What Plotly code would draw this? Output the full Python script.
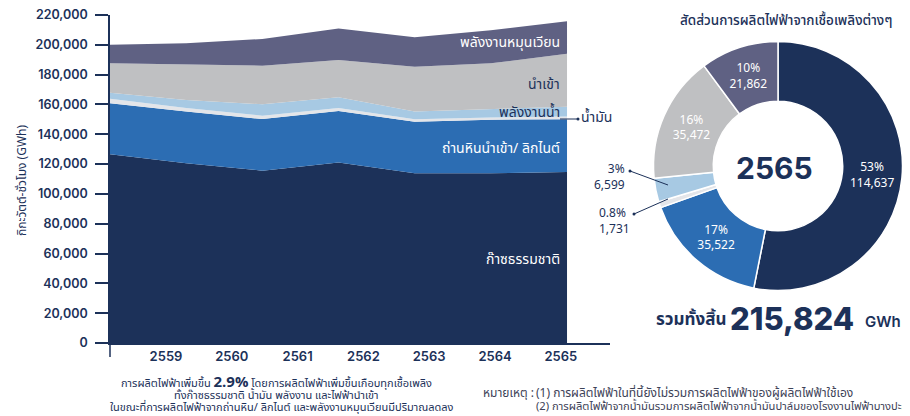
import plotly.graph_objects as go

# ---------------- data ----------------
years = [2559, 2560, 2561, 2562, 2563, 2564, 2565]
year_labels = ["2559", "2560", "2561", "2562", "2563", "2564", "2565"]
gas = [126600, 120500, 115600, 121000, 113800, 113800, 114637]
coal = [34200, 34700, 34600, 34600, 34600, 36000, 35522]
oil = [3000, 2500, 2300, 2000, 1600, 1400, 1731]
hydro = [4100, 5300, 7600, 7200, 5200, 5400, 6599]
imports = [19700, 23900, 25900, 25000, 30100, 31000, 35472]
renew = [12400, 14200, 17900, 21200, 19700, 22100, 21862]
series_names = ["ก๊าซธรรมชาติ", "ถ่านหินนำเข้า/ ลิกไนต์", "น้ำมัน", "พลังงานน้ำ", "นำเข้า", "พลังงานหมุนเวียน"]
pie_pct = ["53%", "17%", "0.8%", "3%", "16%", "10%"]
y_ticks = [0, 20000, 40000, 60000, 80000, 100000, 120000, 140000, 160000, 180000, 200000, 220000]
total_2565 = "215,824"

NAVY = "#1c3159"
colors = ["#1c3159", "#2c6db3", "#e3e5e9", "#a7c9e3", "#bfc0c2", "#5f6183"]
FONT = "Noto Sans Thai, Noto Sans, sans-serif"

# page has an 8px body margin: the figure is drawn from (8, 8) in the window
OFF = 8
W, H = 910 - OFF, 416 - OFF
def px(x):
    return (x - OFF) / W
def py(y):
    return 1 - (y - OFF) / H

fig = go.Figure()
series = [gas, coal, oil, hydro, imports, renew]
for name, vals, c in zip(series_names, series, colors):
    fig.add_trace(go.Scatter(x=years, y=vals, name=name, stackgroup="one",
                             mode="lines", line=dict(width=0, color=c),
                             fillcolor=c, showlegend=False))

# invisible trace for the year-label axis
fig.add_trace(go.Scatter(x=years, y=[0] * len(years), xaxis="x2", mode="markers",
                         marker=dict(opacity=0), showlegend=False, hoverinfo="skip"))

pie_vals = [s[-1] for s in series]
fig.add_trace(go.Pie(values=pie_vals, labels=series_names, text=pie_pct,
                     texttemplate="%{text}<br>%{value:,}",
                     textposition=["inside", "inside", "none", "none", "inside", "inside"],
                     insidetextorientation="horizontal",
                     insidetextfont=dict(color="white", size=12, family=FONT),
                     marker=dict(colors=colors, line=dict(color="white", width=1.5)),
                     hole=0.52, sort=False, direction="clockwise", rotation=0,
                     domain=dict(x=[px(778 - 124.5), px(778 + 124.5)], y=[py(290.5), py(41.5)]),
                     showlegend=False, hoverinfo="label+value"))

x0, x1 = 110, 610
xspan = (x1 - x0) / 76.17
lab0, labstep = 166, 65.8
fig.update_layout(
    width=W, height=H, margin=dict(l=0, r=0, t=0, b=0, autoexpand=False),
    paper_bgcolor="white", plot_bgcolor="white",
    font=dict(family=FONT, color=NAVY),
    xaxis=dict(domain=[px(x0), px(x1)], range=[2559, 2559 + xspan], showgrid=False,
               zeroline=False, showticklabels=False, ticks="", showline=True,
               linecolor=NAVY, linewidth=1.5, automargin=False),
    xaxis2=dict(overlaying="x", anchor="y", side="bottom",
                range=[2559 - (lab0 - x0) / labstep, 2559 - (lab0 - x0) / labstep + (x1 - x0) / labstep],
                tickvals=years, ticktext=year_labels, showgrid=False, zeroline=False,
                showline=False, ticks="", automargin=False, ticklabelstandoff=4,
                ticklabeloverflow="allow",
                tickfont=dict(size=13, color=NAVY, family="Inter", weight=600)),
    yaxis=dict(domain=[py(343), py(15)], range=[0, 220000], tickvals=y_ticks,
               tickformat=",", showgrid=False, zeroline=False, showline=True,
               linecolor=NAVY, linewidth=1.5, ticks="outside", ticklen=13,
               tickcolor=NAVY, tickwidth=1.5, ticklabelstandoff=5, automargin=False,
               ticklabeloverflow="allow",
               tickfont=dict(size=12.5, color=NAVY, family="Inter", weight=600)),
)

shapes = [
    dict(type="line", xref="paper", yref="paper", x0=px(110), x1=px(110), y0=py(343), y1=py(357),
         line=dict(color=NAVY, width=1.5)),
    # oil connector in area chart
    dict(type="line", xref="paper", yref="paper", x0=px(560), x1=px(578), y0=py(119), y1=py(119),
         line=dict(color=NAVY, width=1)),
    dict(type="circle", xref="paper", yref="paper", x0=px(576.5), x1=px(579.5), y0=py(120.5), y1=py(117.5),
         fillcolor=NAVY, line=dict(width=0)),
    # pie connectors
    dict(type="line", xref="paper", yref="paper", x0=px(630), x1=px(668), y0=py(171), y1=py(185),
         line=dict(color=NAVY, width=1)),
    dict(type="circle", xref="paper", yref="paper", x0=px(628.5), x1=px(631.5), y0=py(172.5), y1=py(169.5),
         fillcolor=NAVY, line=dict(width=0)),
    dict(type="line", xref="paper", yref="paper", x0=px(634), x1=px(668), y0=py(214), y1=py(199),
         line=dict(color=NAVY, width=1)),
    dict(type="circle", xref="paper", yref="paper", x0=px(632.5), x1=px(635.5), y0=py(215.5), y1=py(212.5),
         fillcolor=NAVY, line=dict(width=0)),
]
fig.update_layout(shapes=shapes)

def ann(text, x, y, size=12, color=NAVY, xanchor="center", align="center", weight=None, **kw):
    f = dict(size=size, color=color, family=kw.pop("family", FONT))
    if weight:
        f["weight"] = weight
    fig.add_annotation(text=text, x=px(x), y=py(y), xref="paper", yref="paper",
                       showarrow=False, xanchor=xanchor, yanchor="middle", align=align,
                       font=f, borderpad=0, **kw)

# area labels
ann(series_names[5], 561, 42, 14, "white", xanchor="right")
ann(series_names[4], 561, 84, 14, NAVY, xanchor="right")
ann(series_names[3], 561, 113, 14, NAVY, xanchor="right")
ann(series_names[2], 580, 118, 14, NAVY, xanchor="left")
ann(series_names[1], 561, 148, 14, "white", xanchor="right")
ann(series_names[0], 561, 259, 14, "white", xanchor="right")

# y-axis title
ann("กิกะวัตต์-ชั่วโมง (GWh)", 22, 180, 12, NAVY, textangle=-90)

# donut texts
ann("สัดส่วนการผลิตไฟฟ้าจากเชื้อเพลิงต่างๆ", 786, 21, 13.5, NAVY, weight=500)
ann("2565", 774, 168, 30, NAVY, weight=700, family="Inter")
ann(pie_pct[3] + "<br>" + f"{pie_vals[3]:,}", 626, 177, 12, NAVY, xanchor="right", align="right")
ann(pie_pct[2] + "<br>" + f"{pie_vals[2]:,}", 598, 221, 12, NAVY, xanchor="left", align="left")
ann("รวมทั้งสิ้น", 691, 320, 17, NAVY, weight=700)
ann(total_2565, 792, 318, 31, NAVY, weight=800, family="Inter")
ann("GWh", 883, 321, 15, NAVY, weight=600, family="Inter")

# bottom notes
ann("การผลิตไฟฟ้าเพิ่มขึ้น <b><span style='font-size:15px'>2.9%</span></b> โดยการผลิตไฟฟ้าเพิ่มขึ้นเกือบทุกเชื้อเพลิง", 276, 382, 11, NAVY)
ann("ทั้งก๊าซธรรมชาติ น้ำมัน พลังงาน และไฟฟ้านำเข้า", 276, 395, 11, NAVY)
ann("ในขณะที่การผลิตไฟฟ้าจากถ่านหิน/ ลิกไนต์ และพลังงานหมุนเวียนมีปริมาณลดลง", 282, 407, 11, NAVY)
ann("หมายเหตุ :", 482, 393, 12, "#3d4257", xanchor="left", align="left")
ann("(1) การผลิตไฟฟ้าในที่นี้ยังไม่รวมการผลิตไฟฟ้าของผู้ผลิตไฟฟ้าใช้เอง", 535, 393, 12, "#3d4257", xanchor="left", align="left")
ann("(2) การผลิตไฟฟ้าจากน้ำมันรวมการผลิตไฟฟ้าจากน้ำมันปาล์มของโรงงานไฟฟ้าบางปะกง", 535, 406, 11.2, "#3d4257", xanchor="left", align="left")

fig.write_html("out.html")
